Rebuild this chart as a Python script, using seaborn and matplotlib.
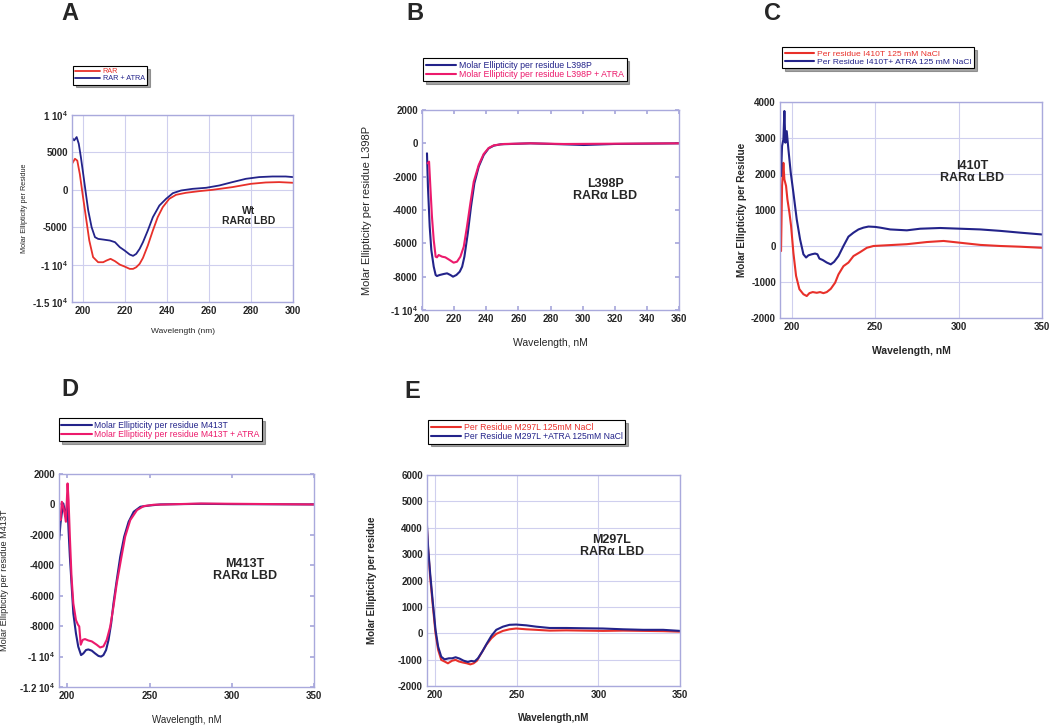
"""CD spectra of RARa LBD mutants, five panels A-E."""
import matplotlib
matplotlib.use('Agg')
import matplotlib.pyplot as plt
import seaborn as sns

# Panel A: wild type
a_wl_rar = [195, 196.4, 197.5, 198.7, 200, 201.6, 203.2, 205, 207.4, 209.8, 211.4, 213.3, 215.4,
            217.7, 220, 222.4, 224, 225.5, 227.1, 228.7, 231, 233.4, 235.7, 238.1, 241.2, 244.4,
            249.1, 255.4, 261.8, 271.2, 280, 287, 293.4, 300]
a_rar = [3480, 4150, 3900, 2100, -540, -3660, -6780, -9000, -9680, -9680, -9450, -9230, -9540,
         -10000, -10260, -10570, -10570, -10350, -9900, -9100, -7450, -5440, -3660, -2320, -1200,
         -670, -400, -180, 0, 360, 800, 980, 1030, 940]
a_wl_atra = [195, 196, 197.2, 198.2, 199.2, 200.3, 201.6, 202.7, 204.3, 205.9, 207.4, 209.8, 213,
             215.4, 217.7, 220, 222.4, 224, 225.5, 227.1, 228.7, 231, 233.4, 236.5, 239.7, 242.9,
             246.8, 252.3, 258.7, 265, 271.2, 277.6, 283.9, 290.2, 296.5, 300]
a_atra = [6960, 6600, 7050, 6150, 4370, 2140, -540, -2770, -5000, -6330, -6560, -6650, -6780,
          -7000, -7670, -8120, -8650, -8830, -8560, -7900, -7000, -5440, -3660, -2100, -1200, -450,
          -90, 130, 270, 580, 1030, 1470, 1700, 1780, 1780, 1700]

# Panel B: L398P
b_wl_apo = [203.1, 203.7, 204.8, 205.8, 207.3, 208.5, 209.3, 211, 213.5, 215.6, 217.7, 219.3, 221.4,
            223.5, 225, 226.4, 228.5, 230.5, 232.6, 235.3, 238.4, 241.5, 244.7, 248.8, 255, 267.5,
            288.3, 300.7, 319.4, 360]
b_apo = [-600, -2600, -5000, -6400, -7400, -7900, -7960, -7900, -7840, -7800, -7900, -8000, -7900,
         -7700, -7400, -6800, -5400, -3800, -2400, -1400, -700, -300, -140, -60, -40, 0,
         -60, -100, -40, 0]
b_wl_atra = [203.5, 204.4, 205.2, 206.2, 207.3, 208.5, 209.3, 210.4, 212.5, 214.5, 217.2, 219.7,
             221.8, 223.9, 226, 228, 230.1, 232.2, 235.3, 238.4, 241.5, 244.7, 250.9, 267.5, 288.3, 360]
b_atra = [-1200, -1100, -2600, -4400, -5800, -6800, -6840, -6700, -6800, -6840, -7000, -7160,
          -7100, -6800, -6200, -5000, -3600, -2300, -1300, -640, -280, -120, -40, 0, -40, 0]

# Panel C: I410T
c_wl_apo = [193.6, 194.2, 195, 195.6, 196.6, 197.4, 198.6, 199.6, 201, 202.6, 204.6, 207, 209, 210.6,
            212.6, 215, 217, 219, 221, 223.4, 226, 228, 231, 234, 237, 241, 245, 249, 257, 269, 281,
            291, 301, 313, 325, 337, 350]
c_apo = [-140, 1670, 2310, 1850, 1670, 1300, 930, 560, -190, -830, -1200, -1340, -1390, -1310,
         -1280, -1300, -1280, -1310, -1280, -1190, -1020, -790, -560, -460, -280, -170, -50, 0, 20,
         50, 110, 140, 90, 30, 0, -20, -50]
c_wl_atra = [193.6, 194.2, 195, 195.6, 196.2, 197, 198, 199.4, 201, 203, 205, 207, 208.6, 210, 212,
             214, 215.4, 216.6, 218.6, 221, 223.4, 225.4, 228, 231, 234, 237, 240, 243, 246, 250,
             253, 259, 269, 277, 289, 301, 313, 325, 337, 350]
c_atra = [1940, 2780, 2960, 3750, 2870, 3190, 2690, 2040, 1480, 740, 185, -230, -320, -260, -230,
          -210, -230, -350, -390, -460, -510, -440, -280, 0, 260, 370, 460, 510, 540, 530, 510,
          460, 435, 480, 500, 480, 460, 420, 370, 320]

# Panel D: M413T
d_wl_apo = [195.1, 195.9, 196.7, 197.6, 198.4, 199.2, 200, 200.8, 201.6, 202.6, 203.7, 205.3, 206.7,
            208.4, 209.8, 211.4, 212.8, 214.9, 216.9, 219, 220.6, 222, 223.6, 225.1, 226.7, 228.1,
            230.1, 232.2, 234.6, 237.3, 240.4, 244.5, 250, 256.7, 281.2, 301.5, 350]
d_apo = [-2340, -1250, -590, 70, -370, -810, 175, -1690, -3440, -5190, -7160, -8480, -9350, -9900,
         -9790, -9570, -9530, -9610, -9790, -9960, -10000, -9900, -9570, -8900, -7820, -6500, -4970,
         -3440, -2120, -1140, -480, -150, -70, 0, 40, 20, 0]
d_wl_atra = [195.1, 195.9, 196.7, 197.6, 198.4, 199.2, 200.2, 200.8, 201.6, 202.6, 203.7, 205.3,
             206.5, 207.3, 208.2, 209.4, 210.8, 212.8, 214.9, 217.9, 220, 222, 224, 226.1, 228.1,
             230.1, 232.6, 235.2, 238.3, 242.4, 246.5, 252.6, 281.2, 350]
d_atra = [-590, -1030, 175, -150, -590, -1140, 1380, 280, -2120, -4750, -6500, -7600, -7900, -8020,
          -9220, -8900, -8850, -8940, -9000, -9220, -9400, -9330, -8900, -8040, -6720, -5190, -3660,
          -2120, -1030, -370, -110, -20, 60, 0]

# Panel E: M297L
e_wl = [194.9, 195.7, 196.9, 198.6, 200.2, 201.8, 203.7, 205.7, 207.8, 208.8, 210.4, 212.5, 214.5,
        217, 219.4, 221.5, 223.5, 225.6, 228.2, 231.3, 234.4, 237.4, 241.5, 245.5, 249.6, 255.8,
        261.9, 270.1, 280.3, 290.6, 302.8, 315.1, 327.4, 339.6, 349.8]
e_apo = [4040, 3160, 2150, 1010, 0, -630, -1010, -1070, -1140, -1100, -1040, -1010, -1070, -1110,
         -1140, -1180, -1140, -1040, -760, -440, -190, -25, 90, 150, 180, 150, 130, 100, 110, 100,
         90, 100, 90, 80, 60]
e_wl_atra = [194.9, 195.7, 196.9, 198.6, 200.2, 201.8, 203.7, 205.7, 208.4, 210.4, 212.5, 214.9,
             217.4, 220, 222.1, 224.1, 226.2, 228.8, 231.7, 234.4, 237.4, 241.5, 245.5, 249.6, 255.8,
             261.9, 270.1, 280.3, 290.6, 302.8, 315.1, 327.4, 339.6, 349.8]
e_atra = [4170, 3220, 2280, 1140, 130, -510, -890, -990, -950, -950, -910, -960, -1040, -1090,
          -1050, -1070, -950, -700, -380, -100, 130, 250, 320, 330, 300, 250, 200, 200, 190, 180,
          150, 130, 130, 90]

RED = '#e8302a'
NAVY = '#23238a'
PINK = '#ec1a6c'
SPINE = '#a9a9dc'
GRID = '#cfcfee'

sns.set_theme(style='white')
plt.rcParams['font.family'] = ['Liberation Sans', 'DejaVu Sans']
plt.rcParams['mathtext.default'] = 'regular'

fig = plt.figure(figsize=(10.5, 7.26), dpi=100)


def panel(rect, letter, letter_xy, series, xlim, xticks, ylim, yticks, ylabels,
          xlabel, ylabel, label_bold, label_sizes, grid, note, note_xy, note_size,
          legend_xy, legend_size, xlabel_y, ylabel_x, lw=1.5):
    ax = fig.add_axes(rect)
    for wl, vals, color, name in series:
        sns.lineplot(x=wl, y=vals, ax=ax, color=color, lw=lw, label=name,
                     sort=False, estimator=None)
    ax.set_xlim(*xlim)
    ax.set_ylim(*ylim)
    ax.set_xticks(xticks)
    ax.set_xticklabels([str(t) for t in xticks], fontsize=7, fontweight='bold')
    ax.set_yticks(yticks)
    ax.set_yticklabels(ylabels, fontsize=7, fontweight='bold')
    for s in ax.spines.values():
        s.set_color(SPINE)
        s.set_linewidth(1.0)
    if grid:
        ax.grid(True, color=GRID, lw=0.8)
        ax.tick_params(length=0, pad=3)
    else:
        ax.tick_params(direction='in', length=3, color=SPINE, top=True, right=True,
                       bottom=True, left=True, pad=3)
    w = 'bold' if label_bold else 'normal'
    ax.set_xlabel(xlabel, fontsize=label_sizes[0], fontweight=w)
    ax.set_ylabel(ylabel, fontsize=label_sizes[1], fontweight=w)
    ax.xaxis.set_label_coords(0.5, xlabel_y)
    ax.yaxis.set_label_coords(ylabel_x, 0.5)
    ax.text(note_xy[0], note_xy[1], note, transform=ax.transAxes, ha='center', va='center',
            fontsize=note_size, fontweight='bold', linespacing=1.0)
    leg = ax.legend(loc='upper left', bbox_to_anchor=legend_xy, bbox_transform=fig.transFigure,
                    fontsize=legend_size, frameon=True, fancybox=False, shadow=True,
                    borderpad=0.3, labelspacing=0.0, handlelength=3.5, handletextpad=0.3,
                    borderaxespad=0)
    leg.get_frame().set_edgecolor('black')
    leg.get_frame().set_linewidth(0.8)
    for txt, (_, _, color, _) in zip(leg.get_texts(), series):
        txt.set_color(color)
    fig.text(letter_xy[0], letter_xy[1], letter, fontsize=17, fontweight='bold',
             ha='center', va='center')
    return ax


panel([0.0686, 0.584, 0.2105, 0.2576], 'A', (0.067, 0.982),
      [(a_wl_rar, a_rar, RED, 'RAR'), (a_wl_atra, a_atra, NAVY, 'RAR + ATRA')],
      (195, 300), [200, 220, 240, 260, 280, 300], (-15000, 10000),
      [-15000, -10000, -5000, 0, 5000, 10000],
      ['-1.5 10$^4$', '-1 10$^4$', '-5000', '0', '5000', '1 10$^4$'],
      'Wavelength (nm)', 'Molar Ellipticity per Residue', False, (6, 5.2), True,
      'Wt\nRAR\u03b1 LBD', (0.80, 0.46), 7.5, (0.0695, 0.909), 5.2, -0.14, -0.2, lw=1.3)

panel([0.4019, 0.573, 0.2448, 0.2755], 'B', (0.395, 0.982),
      [(b_wl_apo, b_apo, NAVY, 'Molar Ellipticity per residue L398P'),
       (b_wl_atra, b_atra, PINK, 'Molar Ellipticity per residue L398P + ATRA')],
      (200, 360), list(range(200, 361, 20)), (-10000, 2000),
      [-10000, -8000, -6000, -4000, -2000, 0, 2000],
      ['-1 10$^4$', '-8000', '-6000', '-4000', '-2000', '0', '2000'],
      'Wavelength, nM', 'Molar Ellipticity per residue L398P', False, (7.5, 8), False,
      'L398P\nRAR\u03b1 LBD', (0.712, 0.60), 9, (0.403, 0.920), 6.3, -0.14, -0.195)

panel([0.7429, 0.562, 0.2495, 0.2975], 'C', (0.736, 0.982),
      [(c_wl_apo, c_apo, RED, 'Per residue I410T 125 mM NaCl'),
       (c_wl_atra, c_atra, NAVY, 'Per Residue I410T+ ATRA 125 mM NaCl')],
      (193, 350), [200, 250, 300, 350], (-2000, 4000),
      [-2000, -1000, 0, 1000, 2000, 3000, 4000],
      ['-2000', '-1000', '0', '1000', '2000', '3000', '4000'],
      'Wavelength, nM', 'Molar Ellipticity per Residue', True, (7.5, 7.2), True,
      'I410T\nRAR\u03b1 LBD', (0.733, 0.676), 9, (0.745, 0.935), 6.1, -0.13, -0.125)

panel([0.0562, 0.0537, 0.2429, 0.2934], 'D', (0.067, 0.463),
      [(d_wl_apo, d_apo, NAVY, 'Molar Ellipticity per residue M413T'),
       (d_wl_atra, d_atra, PINK, 'Molar Ellipticity per residue M413T + ATRA')],
      (195, 350), [200, 250, 300, 350], (-12000, 2000),
      [-12000, -10000, -8000, -6000, -4000, -2000, 0, 2000],
      ['-1.2 10$^4$', '-1 10$^4$', '-8000', '-6000', '-4000', '-2000', '0', '2000'],
      'Wavelength, nM', 'Molar Ellipticity per residue M413T', False, (7, 6.6), False,
      'M413T\nRAR\u03b1 LBD', (0.73, 0.55), 9, (0.056, 0.424), 6.2, -0.13, -0.195)

panel([0.4067, 0.0551, 0.241, 0.2906], 'E', (0.393, 0.461),
      [(e_wl, e_apo, RED, 'Per Residue M297L 125mM NaCl'),
       (e_wl_atra, e_atra, NAVY, 'Per Residue M297L +ATRA 125mM NaCl')],
      (195, 350), [200, 250, 300, 350], (-2000, 6000),
      list(range(-2000, 6001, 1000)),
      [str(v) for v in range(-2000, 6001, 1000)],
      'Wavelength,nM', 'Molar Ellipticity per residue', True, (7, 7), True,
      'M297L\nRAR\u03b1 LBD', (0.73, 0.663), 9, (0.408, 0.421), 6.2, -0.13, -0.198)

fig.savefig('out.png', dpi=100)
